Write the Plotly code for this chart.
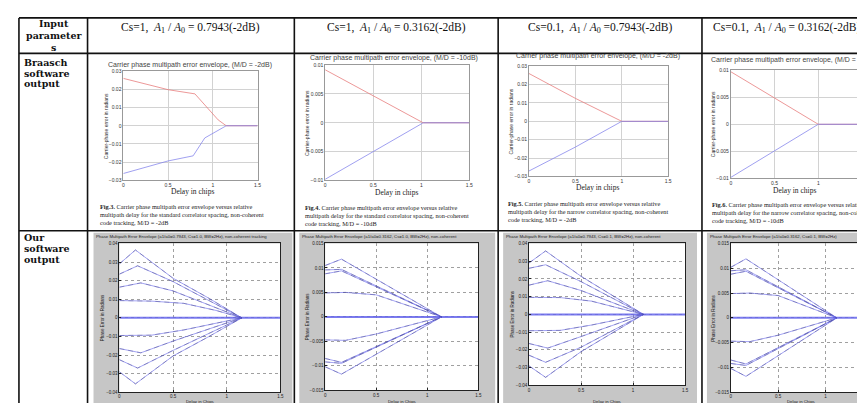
import plotly.graph_objects as go

W, H = 865, 403

# ---------------- text content ----------------
header_texts = [
    "Cs=1,  <i>A</i><sub>1</sub> / <i>A</i><sub>0</sub> = 0.7943(-2dB)",
    "Cs=1,  <i>A</i><sub>1</sub> / <i>A</i><sub>0</sub> = 0.3162(-2dB)",
    "Cs=0.1,  <i>A</i><sub>1</sub> / <i>A</i><sub>0</sub> =0.7943(-2dB)",
    "Cs=0.1,  <i>A</i><sub>1</sub> / <i>A</i><sub>0</sub> = 0.3162(-2dB)",
]
row_label_input = ["Input", "parameter", "s"]
row_label_braasch = ["Braasch", "software", "output"]
row_label_ours = ["Our", "software", "output"]

top_titles = [
    "Carrier phase multipath error envelope, (M/D = -2dB)",
    "Carrier phase multipath error envelope, (M/D = -10dB)",
    "Carrier phase multipath error envelope, (M/D = -2dB)",
    "Carrier phase multipath error envelope, (M/D = -10dB)",
]
captions = [
    "<b>Fig.3.</b> Carrier phase multipath error envelope versus relative<br>multipath delay for the standard correlator spacing, non-coherent<br>code tracking, M/D = -2dB",
    "<b>Fig.4.</b> Carrier phase multipath error envelope versus relative<br>multipath delay for the standard correlator spacing, non-coherent<br>code tracking, M/D = -10dB",
    "<b>Fig.5.</b> Carrier phase multipath error envelope versus relative<br>multipath delay for the narrow correlator spacing, non-coherent<br>code tracking, M/D = -2dB",
    "<b>Fig.6.</b> Carrier phase multipath error envelope versus relative<br>multipath delay for the narrow correlator spacing, non-coherent<br>code tracking, M/D = -10dB",
]
bottom_titles = [
    "Phase Multipath Error Envelope (a1/a0=0.7943, Cs=1.0, BW=2Hz), non-coherent tracking",
    "Phase Multipath Error Envelope (a1/a0=0.3162, Cs=1.0, BW=2Hz), non-coherent",
    "Phase Multipath Error Envelope (a1/a0=0.7943, Cs=0.1, BW=2Hz), non-coherent",
    "Phase Multipath Error Envelope (a1/a0=0.3162, Cs=0.1, BW=2Hz)",
]

# ---------------- Braasch (top) data ----------------
t1_red_x = [0, 0.5, 0.8, 0.93, 1.06, 1.15, 1.5]
t1_red_y = [0.026, 0.0198, 0.0175, 0.0105, 0.0032, 0, 0]
t1_blue_x = [0, 0.5, 0.78, 0.91, 1.15, 1.5]
t1_blue_y = [-0.0262, -0.0193, -0.0165, -0.0067, 0, 0]

t2_red_x = [0, 1.02, 1.5]
t2_red_y = [0.0092, 0, 0]
t2_blue_x = [0, 1.02, 1.5]
t2_blue_y = [-0.0098, 0, 0]

t3_red_x = [0, 0.5, 1.0, 1.5]
t3_red_y = [0.026, 0.0125, 0, 0]
t3_blue_x = [0, 0.5, 1.0, 1.5]
t3_blue_y = [-0.027, -0.014, 0, 0]

t4_red_x = [0, 1.0, 1.5]
t4_red_y = [0.0097, 0, 0]
t4_blue_x = [0, 1.0, 1.5]
t4_blue_y = [-0.0098, 0, 0]

# ---------------- Our software (bottom) data ----------------
b1_x = [
    [0, 0.15, 0.5, 0.82, 1.14],
    [0, 0.17, 0.5, 0.85, 1.14],
    [0, 0.2, 0.5, 0.85, 1.14],
    [0, 0.3, 0.6, 0.9, 1.14],
    [0, 0.3, 0.6, 0.9, 1.14],
    [0, 0.2, 0.5, 0.85, 1.14],
    [0, 0.17, 0.5, 0.85, 1.14],
    [0, 0.15, 0.5, 0.82, 1.14],
]
b1_y = [
    [0.029, 0.0365, 0.0213, 0.011, 0],
    [0.0235, 0.028, 0.0195, 0.009, 0],
    [0.0165, 0.0188, 0.0145, 0.0065, 0],
    [0.0093, 0.009, 0.0078, 0.004, 0],
    [-0.0095, -0.0093, -0.0065, -0.003, 0],
    [-0.0165, -0.0188, -0.0125, -0.0055, 0],
    [-0.0225, -0.027, -0.0175, -0.008, 0],
    [-0.029, -0.0355, -0.0205, -0.0105, 0],
]
b2_x = [
    [0, 0.16, 1.14],
    [0, 0.16, 1.14],
    [0, 0.16, 1.14],
    [0, 0.2, 0.5, 1.14],
    [0, 0.2, 0.5, 1.14],
    [0, 0.16, 1.14],
    [0, 0.16, 1.14],
    [0, 0.16, 1.14],
]
b2_y = [
    [0.0105, 0.0118, 0],
    [0.0096, 0.0097, 0],
    [0.0088, 0.0094, 0],
    [0.0049, 0.005, 0.0045, 0],
    [-0.0047, -0.0048, -0.0035, 0],
    [-0.0085, -0.0093, 0],
    [-0.0092, -0.0095, 0],
    [-0.0102, -0.0117, 0],
]
b3_x = [
    [0, 0.16, 0.5, 1.1],
    [0, 0.16, 0.5, 1.1],
    [0, 0.18, 0.5, 1.1],
    [0, 0.3, 0.6, 1.1],
    [0, 0.3, 0.6, 1.1],
    [0, 0.18, 0.5, 1.1],
    [0, 0.16, 0.5, 1.1],
    [0, 0.16, 0.5, 1.1],
]
b3_y = [
    [0.029, 0.0358, 0.0215, 0],
    [0.026, 0.028, 0.0185, 0],
    [0.0165, 0.019, 0.0135, 0],
    [0.0096, 0.0095, 0.0075, 0],
    [-0.0092, -0.009, -0.006, 0],
    [-0.0164, -0.019, -0.0125, 0],
    [-0.023, -0.027, -0.0185, 0],
    [-0.029, -0.0355, -0.021, 0],
]
b4_x = [
    [0, 0.16, 1.12],
    [0, 0.16, 1.12],
    [0, 0.16, 1.12],
    [0, 0.2, 0.5, 1.12],
    [0, 0.2, 0.5, 1.12],
    [0, 0.16, 1.12],
    [0, 0.16, 1.12],
    [0, 0.16, 1.12],
]
b4_y = [
    [0.0102, 0.0119, 0],
    [0.0095, 0.0097, 0],
    [0.0088, 0.0094, 0],
    [0.0049, 0.005, 0.0045, 0],
    [-0.0047, -0.0048, -0.0035, 0],
    [-0.0085, -0.0093, 0],
    [-0.0092, -0.0096, 0],
    [-0.0102, -0.0118, 0],
]
zero_x = [0, 1.5]
zero_y = [0, 0]

top_yticks_a = [-0.03, -0.02, -0.01, 0, 0.01, 0.02, 0.03]
top_yticks_b = [-0.01, -0.005, 0, 0.005, 0.01]
bot_yticks_a = [-0.04, -0.03, -0.02, -0.01, 0, 0.01, 0.02, 0.03, 0.04]
bot_yticks_b = [-0.015, -0.01, -0.005, 0, 0.005, 0.01, 0.015]
x_ticks = [0, 0.5, 1, 1.5]
x_ticktext = ["0", "0.5", "1", "1.5"]


def px(x):
    return x / W


def py(y):
    return 1 - y / H


fig = go.Figure()

# ------------ subplot geometry (pixels) ------------
top_boxes = [(115, 250, 61, 172), (318, 463, 55, 172), (523, 663, 56, 168), (726, 858, 60, 170)]
bot_boxes = [(111, 273, 236, 387), (318, 472, 236, 385), (523, 680, 236, 380), (726, 865, 236, 387)]
gray_boxes = [(85, 285), (292, 489), (497, 692), (702, 865)]

RED = "rgba(230,120,120,0.85)"
BLUE = "rgba(130,130,235,0.85)"
LBLUE = "rgba(100,100,235,0.75)"
DASHC = "rgba(50,50,110,0.45)"

top_data = [
    (t1_red_x, t1_red_y, t1_blue_x, t1_blue_y, top_yticks_a),
    (t2_red_x, t2_red_y, t2_blue_x, t2_blue_y, top_yticks_b),
    (t3_red_x, t3_red_y, t3_blue_x, t3_blue_y, top_yticks_a),
    (t4_red_x, t4_red_y, t4_blue_x, t4_blue_y, top_yticks_b),
]
bot_data = [
    (b1_x, b1_y, bot_yticks_a),
    (b2_x, b2_y, bot_yticks_b),
    (b3_x, b3_y, bot_yticks_a),
    (b4_x, b4_y, bot_yticks_b),
]

layout_axes = {}
shapes = []
annotations = []

SANS = "Liberation Sans, Arial, sans-serif"
SERIF = "Liberation Serif, Times New Roman, serif"
TICKFONT = dict(family=SANS, size=5, color="#333")
BTICKFONT = dict(family=SANS, size=4.5, color="#222")

for i, (rx, ry, bx, by, yt) in enumerate(top_data):
    n = i + 1
    xa = "x" if n == 1 else f"x{n}"
    ya = "y" if n == 1 else f"y{n}"
    x0, x1, y0, y1 = top_boxes[i]
    fig.add_trace(go.Scatter(x=rx, y=ry, mode="lines", line=dict(color=RED, width=0.9),
                             xaxis=xa, yaxis=ya, showlegend=False, hoverinfo="skip"))
    fig.add_trace(go.Scatter(x=bx, y=by, mode="lines", line=dict(color=BLUE, width=0.9),
                             xaxis=xa, yaxis=ya, showlegend=False, hoverinfo="skip"))
    layout_axes["xaxis" if n == 1 else f"xaxis{n}"] = dict(
        domain=[px(x0), px(x1)], anchor=ya, range=[0, 1.5], tickvals=x_ticks,
        ticktext=x_ticktext, showgrid=True, gridcolor="#d2d2d2", gridwidth=0.8,
        showline=True, linecolor="#999", linewidth=0.8, mirror=True, zeroline=False,
        tickfont=TICKFONT, ticks="", fixedrange=True,
    )
    layout_axes["yaxis" if n == 1 else f"yaxis{n}"] = dict(
        domain=[py(y1), py(y0)], anchor=xa, range=[yt[0], yt[-1]], tickvals=yt,
        showgrid=True, gridcolor="#d2d2d2", gridwidth=0.8,
        showline=True, linecolor="#999", linewidth=0.8, mirror=True, zeroline=False,
        tickfont=TICKFONT, ticks="", fixedrange=True,
    )

for i, (cx, cy, yt) in enumerate(bot_data):
    n = i + 5
    xa = f"x{n}"
    ya = f"y{n}"
    x0, x1, y0, y1 = bot_boxes[i]
    fig.add_trace(go.Scatter(x=zero_x, y=zero_y, mode="lines", line=dict(color="rgba(100,100,235,0.85)", width=2),
                             xaxis=xa, yaxis=ya, showlegend=False, hoverinfo="skip"))
    for xs, ys in zip(cx, cy):
        fig.add_trace(go.Scatter(x=xs, y=ys, mode="lines", line=dict(color=LBLUE, width=0.8),
                                 xaxis=xa, yaxis=ya, showlegend=False, hoverinfo="skip"))
        fig.add_trace(go.Scatter(x=xs, y=ys, mode="lines",
                                 line=dict(color=DASHC, width=0.8, dash="5px,4px"),
                                 xaxis=xa, yaxis=ya, showlegend=False, hoverinfo="skip"))
    xmax = 1.5 if i < 3 else 1.46
    layout_axes[f"xaxis{n}"] = dict(
        domain=[px(x0), px(x1)], anchor=ya, range=[0, xmax], tickvals=x_ticks,
        ticktext=x_ticktext, showgrid=True, gridcolor="#a0a0a0", gridwidth=0.6,
        griddash="dot", showline=True, linecolor="#222", linewidth=0.7, mirror=True, zeroline=False,
        tickfont=BTICKFONT, ticks="inside", ticklen=2, tickcolor="#222", fixedrange=True,
    )
    layout_axes[f"yaxis{n}"] = dict(
        domain=[py(y1), py(y0)], anchor=xa, range=[yt[0], yt[-1]], tickvals=yt,
        showgrid=True, gridcolor="#a0a0a0", gridwidth=0.6, griddash="dot",
        showline=True, linecolor="#222", linewidth=0.7, mirror=True, zeroline=False,
        tickfont=BTICKFONT, ticks="inside", ticklen=2, tickcolor="#222", fixedrange=True,
    )

# ------------ gray figure frames (bottom) ------------
for i, (gx0, gx1) in enumerate(gray_boxes):
    shapes.append(dict(type="rect", xref="paper", yref="paper", x0=px(gx0), x1=px(gx1),
                       y0=py(403), y1=py(225), fillcolor="#c6c6c6", line=dict(width=0), layer="below"))
    x0, x1, y0, y1 = bot_boxes[i]
    shapes.append(dict(type="rect", xref="paper", yref="paper", x0=px(x0), x1=px(x1),
                       y0=py(y1), y1=py(y0), fillcolor="white", line=dict(width=0), layer="below"))
    annotations.append(dict(xref="paper", yref="paper", x=px(gx0 + 2), y=py(225), xanchor="left",
                            yanchor="top", showarrow=False, text=bottom_titles[i], borderpad=0,
                            font=dict(family=SANS, size=4.3, color="#222")))
    lab_x = (x0 + x1) / 2 if i < 3 else 797
    annotations.append(dict(xref="paper", yref="paper", x=px(lab_x), y=py(396.5), borderpad=0,
                            xanchor="center", yanchor="middle", showarrow=False,
                            text="Delay in Chips", font=dict(family=SANS, size=4.3, color="#222")))
    annotations.append(dict(xref="paper", yref="paper", x=px(x0 - 17), y=py((y0 + y1) / 2),
                            xanchor="center", yanchor="middle", showarrow=False, textangle=-90,
                            text="Phase Error in Radians", font=dict(family=SANS, size=4.5, color="#222")))

# ------------ table grid ------------
LINE = dict(color="#111", width=1.6)
for yy in [7, 43, 223]:
    shapes.append(dict(type="line", xref="paper", yref="paper", x0=px(10), x1=1, y0=py(yy), y1=py(yy), line=LINE))
for xx in [10, 79, 287, 492, 697]:
    shapes.append(dict(type="line", xref="paper", yref="paper", x0=px(xx), x1=px(xx), y0=py(7), y1=0, line=LINE))

# ------------ header + row labels ------------
header_x = [183, 390, 595, 782]
for hx, ht in zip(header_x, header_texts):
    annotations.append(dict(xref="paper", yref="paper", x=px(hx), y=py(17), xanchor="center",
                            yanchor="middle", showarrow=False, text=ht,
                            font=dict(family=SERIF, size=11.5, color="#111")))

LABFONT = dict(family="DejaVu Serif, serif", size=9.5, color="#111")
for txt, yy in zip(row_label_input, [13, 25, 37]):
    annotations.append(dict(xref="paper", yref="paper", x=px(45), y=py(yy), xanchor="center",
                            yanchor="middle", showarrow=False, text=f"<b>{txt}</b>", font=LABFONT))
for txt, yy in zip(row_label_braasch, [52, 63, 74]):
    annotations.append(dict(xref="paper", yref="paper", x=px(13), y=py(yy), xanchor="left",
                            yanchor="middle", showarrow=False, text=f"<b>{txt}</b>", font=LABFONT))
for txt, yy in zip(row_label_ours, [230, 241, 252]):
    annotations.append(dict(xref="paper", yref="paper", x=px(13), y=py(yy), xanchor="left",
                            yanchor="middle", showarrow=False, text=f"<b>{txt}</b>", font=LABFONT))

# ------------ Braasch titles, labels, captions ------------
title_pos = [(182, 55, "center"), (387, 48, "center"), (592, 46, "center"), (704, 50, "left")]
xlabel_pos = [(185, 183), (390, 184), (592, 179), (790, 182)]
caption_pos = [(90, 193), (296, 194), (500, 190), (705, 191)]
for i in range(4):
    tx, ty, ta = title_pos[i]
    annotations.append(dict(xref="paper", yref="paper", x=px(tx), y=py(ty), xanchor=ta, yanchor="middle",
                            showarrow=False, text=top_titles[i],
                            font=dict(family=SANS, size=7, color="#444")))
    lx, ly = xlabel_pos[i]
    annotations.append(dict(xref="paper", yref="paper", x=px(lx), y=py(ly), xanchor="center", yanchor="middle",
                            showarrow=False, text="Delay in chips",
                            font=dict(family=SERIF, size=7.5, color="#222")))
    cx_, cy_ = caption_pos[i]
    annotations.append(dict(xref="paper", yref="paper", x=px(cx_), y=py(cy_), xanchor="left", yanchor="top",
                            align="left", showarrow=False, text=captions[i],
                            font=dict(family=SERIF, size=6.3, color="#222")))
    x0, x1, y0, y1 = top_boxes[i]
    annotations.append(dict(xref="paper", yref="paper", x=px(x0 - 18), y=py((y0 + y1) / 2),
                            xanchor="center", yanchor="middle", showarrow=False, textangle=-90,
                            text="Carrier-phase error in radians",
                            font=dict(family=SANS, size=5, color="#333")))

fig.update_layout(
    width=W, height=H, margin=dict(l=0, r=0, t=0, b=0),
    paper_bgcolor="white", plot_bgcolor="rgba(0,0,0,0)",
    shapes=shapes, annotations=annotations, showlegend=False,
    **layout_axes,
)

fig.write_html("out.html", config={"displayModeBar": False})
